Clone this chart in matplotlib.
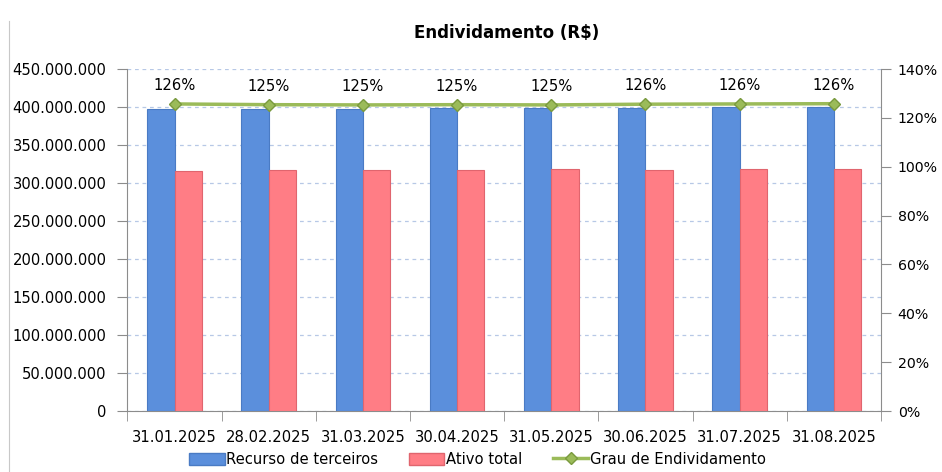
import numpy as np
import matplotlib.pyplot as plt
from matplotlib.patches import Patch
from matplotlib.lines import Line2D

plt.rcParams['font.family'] = ['DejaVu Sans']

datas = ['31.01.2025', '28.02.2025', '31.03.2025', '30.04.2025',
         '31.05.2025', '30.06.2025', '31.07.2025', '31.08.2025']
# valores em milhoes de R$
recurso_terceiros = [397.0, 398.0, 398.0, 398.5, 399.0, 399.0, 399.5, 400.0]
ativo_total = [316.0, 316.5, 317.0, 317.5, 318.0, 317.5, 318.0, 318.5]
grau = [1.257, 1.254, 1.253, 1.254, 1.253, 1.256, 1.257, 1.258]

azul = '#5B8FDC'
azul_borda = '#4A7BC4'
rosa = '#FF7D85'
rosa_borda = '#E0656E'
verde = '#9BBB59'
verde_borda = '#7A9A3E'
cinza = '#8C8C8C'

fig = plt.figure(figsize=(9.42, 4.72), dpi=100)
ax = fig.add_axes([0.1353, 0.1292, 0.7999, 0.7246])

x = np.arange(len(datas))
w = 0.29
ax.bar(x - w / 2, np.array(recurso_terceiros) * 1e6, w, color=azul,
       edgecolor=azul_borda, linewidth=0.8, zorder=3)
ax.bar(x + w / 2, np.array(ativo_total) * 1e6, w, color=rosa,
       edgecolor=rosa_borda, linewidth=0.8, zorder=3)

ax.set_ylim(0, 450e6)
ax.set_yticks(np.arange(0, 451e6, 50e6))
ax.set_yticklabels(['0' if v == 0 else f'{int(v):,}'.replace(',', '.')
                    for v in np.arange(0, 451e6, 50e6)])
ax.set_xlim(-0.5, len(datas) - 0.5)
ax.set_xticks(x)
ax.set_xticklabels(datas)
ax.set_xticks(np.arange(-0.5, len(datas), 1), minor=True)
ax.tick_params(axis='x', which='major', length=0, pad=14, labelsize=10.6)
ax.tick_params(axis='x', which='minor', length=7, color=cinza, direction='out')
ax.tick_params(axis='y', length=7, color=cinza, labelsize=10.6, pad=8)
ax.grid(axis='y', linestyle=(0, (3, 3)), color='#B7C8E6', linewidth=0.9, zorder=0)

for s in ['top', 'right']:
    ax.spines[s].set_visible(False)
for s in ['left', 'bottom']:
    ax.spines[s].set_color(cinza)

ax2 = ax.twinx()
ax2.plot(x, grau, color=verde, linewidth=2.5, marker='D', markersize=6.5,
         markerfacecolor=verde, markeredgecolor=verde_borda, zorder=5)
for xi, g in zip(x, grau):
    ax2.text(xi, g + 0.075, f'{g:.0%}', ha='center', va='center', fontsize=10.6)
ax2.set_ylim(0, 1.4)
ax2.set_yticks(np.arange(0, 1.41, 0.2))
ax2.set_yticklabels([f'{int(round(v * 100))}%' for v in np.arange(0, 1.41, 0.2)])
ax2.tick_params(axis='y', length=7, color=cinza, labelsize=10.2, pad=5)
for s in ['top', 'left', 'bottom']:
    ax2.spines[s].set_visible(False)
ax2.spines['right'].set_color(cinza)

fig.text(0.538, 0.93, 'Endividamento (R$)', ha='center', va='center',
         fontsize=12, fontweight='bold')

handles = [
    Patch(facecolor=azul, edgecolor=azul_borda),
    Patch(facecolor=rosa, edgecolor=rosa_borda),
    Line2D([0], [0], color=verde, linewidth=2.5, marker='D', markersize=6,
           markerfacecolor=verde, markeredgecolor=verde_borda),
]
fig.legend(handles, ['Recurso de terceiros', 'Ativo total', 'Grau de Endividamento'],
           loc='center', bbox_to_anchor=(0.507, 0.027), ncol=3, frameon=False,
           fontsize=10.6, handlelength=2.4, handleheight=0.9, handletextpad=0.1,
           columnspacing=2.1)

fig.add_artist(Line2D([0.0096, 0.0096], [0, 0.955], color='#C8C8C8', linewidth=0.8))

fig.savefig('out.png', dpi=100)
